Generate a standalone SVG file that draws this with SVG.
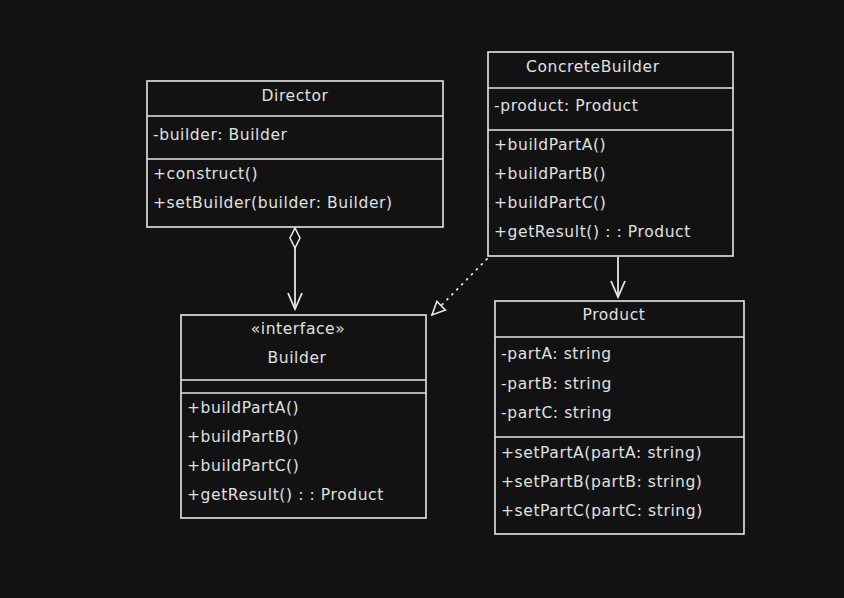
<svg xmlns="http://www.w3.org/2000/svg" width="844" height="598" viewBox="0 0 844 598">
<defs>
<style>
.box{fill:#121212;stroke:#e6e6e6;stroke-width:1.6}
.sep{stroke:#e6e6e6;stroke-width:1.4}
text{font-family:"DejaVu Sans","Liberation Sans",Arial,sans-serif;font-size:15.5px;letter-spacing:0.6px;fill:#e0e0e0}
.c{text-anchor:middle}
.ln{stroke:#e6e6e6;stroke-width:1.8;fill:none}
</style>
<marker id="open" viewBox="0 0 20 20" refX="18" refY="10" markerWidth="20" markerHeight="20" markerUnits="userSpaceOnUse" orient="auto">
<path d="M2,3 L18,10 L2,17" fill="none" stroke="#e6e6e6" stroke-width="1.8"/>
</marker>
<marker id="tri" viewBox="0 0 16 16" refX="15" refY="8" markerWidth="16" markerHeight="16" markerUnits="userSpaceOnUse" orient="auto">
<path d="M2,2 L15,8 L2,14 Z" fill="#121212" stroke="#e6e6e6" stroke-width="1.6"/>
</marker>
<marker id="dia" viewBox="0 0 24 12" refX="1" refY="6" markerWidth="24" markerHeight="12" markerUnits="userSpaceOnUse" orient="auto">
<path d="M1,6 L11,1 L21,6 L11,11 Z" fill="#121212" stroke="#e6e6e6" stroke-width="1.6"/>
</marker>
</defs>
<rect width="844" height="598" fill="#121212"/>
<g id="connectors">
<path class="ln" d="M295,228 L295,309" marker-start="url(#dia)" marker-end="url(#open)"/>
<path class="ln" d="M618,257 L618,297" marker-end="url(#open)"/>
<path class="ln" d="M487,259 L432,315" stroke-dasharray="1,6" stroke-linecap="round" stroke-width="2.2" marker-end="url(#tri)"/>
</g>
<g id="director">
<rect class="box" x="147" y="81" width="296" height="146"/>
<line class="sep" x1="147" y1="116" x2="443" y2="116"/>
<line class="sep" x1="147" y1="159" x2="443" y2="159"/>
<text class="c" x="295" y="101">Director</text>
<text x="153" y="140">-builder: Builder</text>
<text x="153" y="179">+construct()</text>
<text x="153" y="208">+setBuilder(builder: Builder)</text>
</g>
<g id="concretebuilder">
<rect class="box" x="488" y="52" width="245" height="204"/>
<line class="sep" x1="488" y1="88" x2="733" y2="88"/>
<line class="sep" x1="488" y1="130" x2="733" y2="130"/>
<text x="526" y="72">ConcreteBuilder</text>
<text x="494" y="111">-product: Product</text>
<text x="494" y="150">+buildPartA()</text>
<text x="494" y="179">+buildPartB()</text>
<text x="494" y="208">+buildPartC()</text>
<text x="494" y="237">+getResult() : : Product</text>
</g>
<g id="builder">
<rect class="box" x="181" y="315" width="245" height="203"/>
<line class="sep" x1="181" y1="380" x2="426" y2="380"/>
<line class="sep" x1="181" y1="393" x2="426" y2="393"/>
<text class="c" x="298" y="334">«interface»</text>
<text class="c" x="297" y="363">Builder</text>
<text x="187" y="413">+buildPartA()</text>
<text x="187" y="442">+buildPartB()</text>
<text x="187" y="471">+buildPartC()</text>
<text x="187" y="500">+getResult() : : Product</text>
</g>
<g id="product">
<rect class="box" x="495" y="301" width="249" height="233"/>
<line class="sep" x1="495" y1="337" x2="744" y2="337"/>
<line class="sep" x1="495" y1="437" x2="744" y2="437"/>
<text class="c" x="614" y="320">Product</text>
<text x="501" y="359">-partA: string</text>
<text x="501" y="389">-partB: string</text>
<text x="501" y="418">-partC: string</text>
<text x="501" y="458">+setPartA(partA: string)</text>
<text x="501" y="487">+setPartB(partB: string)</text>
<text x="501" y="516">+setPartC(partC: string)</text>
</g>
</svg>
